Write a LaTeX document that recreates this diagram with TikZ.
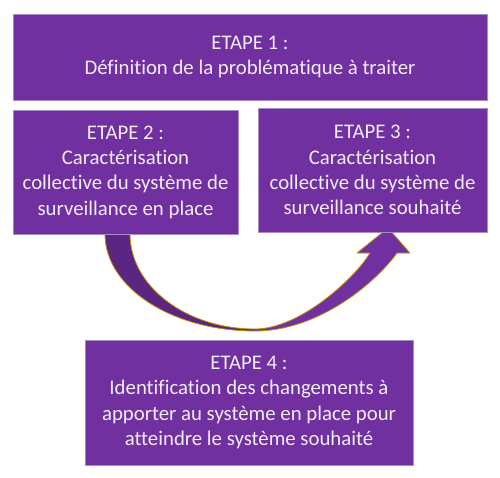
\documentclass[tikz,border=0pt]{standalone}
\usepackage{fontspec}
\setmainfont{Carlito}[Ligatures=NoCommon]
\definecolor{boxpurple}{HTML}{7030A0}
\definecolor{darkpurple}{HTML}{5A2681}
\definecolor{boxedge}{HTML}{A98BC9}
\definecolor{goldline}{HTML}{BF9000}
\definecolor{txt}{HTML}{F3ECF8}
\begin{document}
\begin{tikzpicture}[x=1pt,y=-1pt,
  stepbox/.style={fill=boxpurple, draw=boxedge, line width=0.8pt, text=txt,
    inner sep=0pt, align=center, font=\fontsize{20.8}{25.3}\selectfont},
  arrowline/.style={draw=goldline, line width=0.8pt, line join=round}]
\useasboundingbox (0,0) rectangle (500,478);
% curved arrow (drawn behind the boxes)
\coordinate (tailO) at (105,234);
\coordinate (tailI) at (130,234);
\coordinate (botO) at (255,331);
\coordinate (botI) at (255,329);
\coordinate (baseO) at (397,253);
\coordinate (baseI) at (370,253);
\coordinate (wingR) at (410,253);
\coordinate (wingL) at (357,253);
\coordinate (tip) at (388,228);
\fill[boxpurple] (botO) .. controls (320,331) and (377,281) .. (baseO) -- (wingR) -- (tip) -- (wingL) -- (baseI)
  .. controls (355,278) and (300,329) .. (botI) -- cycle;
\fill[darkpurple] (tailO) .. controls (105,287.6) and (172,331) .. (botO) -- (botI)
  .. controls (186,329) and (130,286) .. (tailI) -- cycle;
\draw[arrowline] (tailO) .. controls (105,287.6) and (172,331) .. (botO)
  .. controls (320,331) and (377,281) .. (baseO) -- (wingR) -- (tip) -- (wingL) -- (baseI)
  .. controls (355,278) and (300,329) .. (botI)
  .. controls (186,329) and (130,286) .. (tailI);
% boxes
\node[stepbox, minimum width=474pt, minimum height=86pt] (e1) at (250,57)
  {ETAPE 1 :\\Définition de la problématique à traiter};
\node[stepbox, minimum width=225pt, minimum height=124pt] (e2) at (125.5,172)
  {ETAPE 2 :\\Caractérisation\\collective du système de\\surveillance en place};
\node[stepbox, minimum width=229pt, minimum height=124pt] (e3) at (372.5,170)
  {ETAPE 3 :\\Caractérisation\\collective du système de\\surveillance souhaité};
\node[stepbox, minimum width=328pt, minimum height=125pt] (e4) at (249,402.5)
  {ETAPE 4 :\\Identification des changements à\\apporter au système en place pour\\atteindre le système souhaité};
\end{tikzpicture}
\end{document}
